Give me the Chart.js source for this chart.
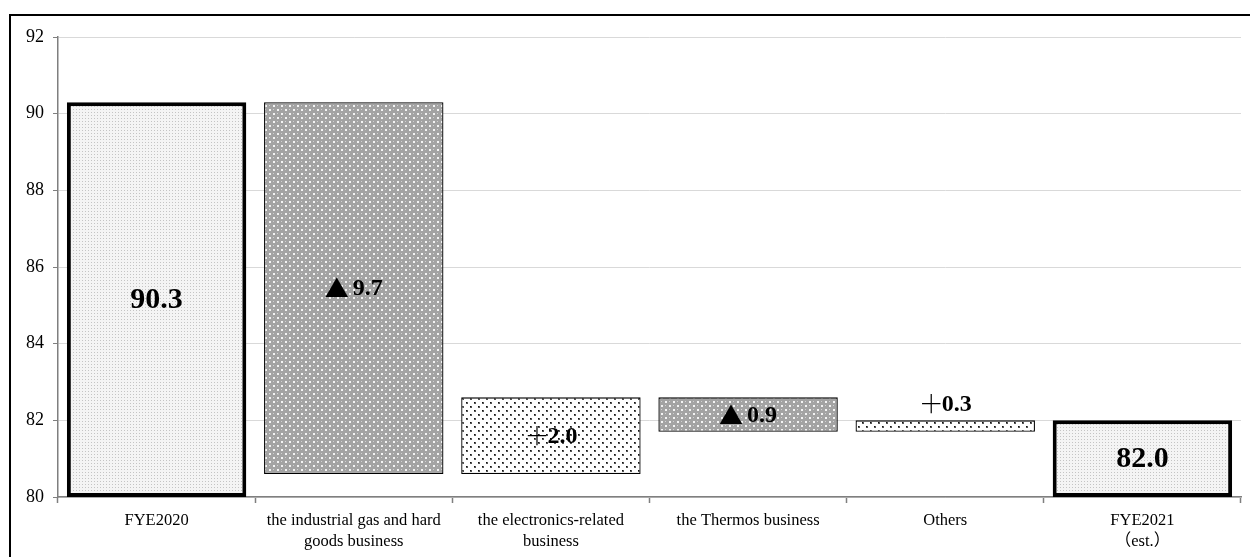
<!DOCTYPE html>
<html>
<head>
<meta charset="utf-8">
<script src="https://cdn.jsdelivr.net/npm/chart.js@4/dist/chart.umd.min.js"></script>
<style>
  html, body { margin: 0; padding: 0; background: #fff; }
  #wrap { width: 1250px; height: 557px; position: relative; }
</style>
</head>
<body>
<div id="wrap"><canvas id="c" width="1250" height="557"></canvas></div>
<script>
// ---- data ----
const categories = [
  'FYE2020',
  ['the industrial gas and hard', 'goods business'],
  ['the electronics-related', 'business'],
  'the Thermos business',
  'Others',
  ['FYE2021', '（est.）']
];
const barStart = [80, 80.6, 80.6, 81.7, 81.7, 80];
const barEnd   = [90.3, 90.3, 82.6, 82.6, 82.0, 82.0];
const valueLabels = ['90.3', '▲9.7', '＋2.0', '▲0.9', '＋0.3', '82.0'];
const barKinds = ['total', 'decrease', 'increase', 'decrease', 'increase', 'total'];
const yTicks = [80, 82, 84, 86, 88, 90, 92];

// ---- patterns ----
function makePattern(kind) {
  const t = document.createElement('canvas');
  const g = t.getContext('2d');
  if (kind === 'total') {
    t.width = 3; t.height = 3;
    g.fillStyle = '#f4f4f4'; g.fillRect(0, 0, 3, 3);
    g.fillStyle = '#c4c4c4'; g.fillRect(1, 1, 1, 1);
  } else if (kind === 'decrease') {
    t.width = 8; t.height = 8;
    g.fillStyle = '#a3a3a3'; g.fillRect(0, 0, 8, 8);
    g.fillStyle = '#f4f4f4';
    g.fillRect(1, 1, 2, 2); g.fillRect(5, 5, 2, 2);
    g.fillStyle = '#d0d0d0';
    g.fillRect(5, 1, 1, 1); g.fillRect(1, 5, 1, 1);
  } else {
    t.width = 8; t.height = 8;
    g.fillStyle = '#ffffff'; g.fillRect(0, 0, 8, 8);
    g.fillStyle = '#555555';
    g.fillRect(2, 2, 2, 2); g.fillRect(6, 6, 2, 2);
    g.fillStyle = '#111111';
    g.fillRect(2, 2, 1, 1); g.fillRect(6, 6, 1, 1);
  }
  const ctx = document.getElementById('c').getContext('2d');
  return ctx.createPattern(t, 'repeat');
}
const fills = barKinds.map(makePattern);
const borderWidths = barKinds.map(k => k === 'total' ? 4 : 1.3);

const SERIF = '"Liberation Serif", "Times New Roman", "Noto Sans CJK JP", serif';

// ---- plugins ----
const frame = {
  id: 'frame',
  beforeDraw(chart) {
    const c = chart.ctx;
    c.save();
    c.fillStyle = '#fff';
    c.fillRect(0, 0, chart.width, chart.height);
    c.strokeStyle = '#000';
    c.lineWidth = 2;
    c.beginPath();
    c.moveTo(10, chart.height + 5);
    c.lineTo(10, 15);
    c.lineTo(chart.width + 5, 15);
    c.stroke();
    c.restore();
  }
};

const labelsPlugin = {
  id: 'valueLabels',
  afterDatasetsDraw(chart) {
    const c = chart.ctx;
    const meta = chart.getDatasetMeta(0);
    const ys = chart.scales.y;
    c.save();
    c.fillStyle = '#000';
    c.textBaseline = 'middle';
    meta.data.forEach((el, i) => {
      const txt = valueLabels[i];
      const isTotal = barKinds[i] === 'total';
      let cy;
      const top = ys.getPixelForValue(barEnd[i]);
      const bot = ys.getPixelForValue(barStart[i]);
      if (bot - top < 20) cy = top - 17; else cy = (top + bot) / 2;
      const cx = el.x;
      if (isTotal) {
        c.font = 'bold 30px ' + SERIF;
        c.textAlign = 'center';
        c.fillText(txt, cx, cy + 1);
      } else {
        const sym = txt[0], num = txt.slice(1);
        const symFont = (sym === '＋' ? '300 25px ' : '24px ') + '"Noto Sans CJK JP", ' + SERIF;
        const numFont = 'bold 24px ' + SERIF;
        c.font = symFont; const ws = c.measureText(sym).width;
        c.font = numFont; const wn = c.measureText(num).width;
        const gap = sym === '＋' ? -2 : 4;
        let x0 = cx - (ws + gap + wn) / 2;
        c.textAlign = 'left';
        c.font = symFont; c.fillText(sym, x0, cy);
        c.font = numFont; c.fillText(num, x0 + ws + gap, cy + 1);
      }
    });
    c.restore();
  }
};

new Chart(document.getElementById('c'), {
  type: 'bar',
  data: {
    labels: categories,
    datasets: [{
      data: barStart.map((s, i) => [s, barEnd[i]]),
      backgroundColor: fills,
      borderColor: '#000',
      borderWidth: borderWidths,
      borderSkipped: false,
      barPercentage: 0.91,
      categoryPercentage: 1.0
    }]
  },
  options: {
    responsive: false,
    animation: false,
    devicePixelRatio: 1,
    layout: { padding: { left: 0, top: 37, right: 9, bottom: 0 } },
    plugins: { legend: { display: false }, tooltip: { enabled: false } },
    scales: {
      x: {
        grid: { display: true, offset: true, drawOnChartArea: false, drawTicks: true, tickLength: 6, color: '#7f7f7f', tickWidth: 1.5 },
        border: { display: true, color: '#7f7f7f', width: 1.5 },
        ticks: { color: '#000', font: { family: SERIF, size: 16.5, lineHeight: 1.22 }, padding: 8, maxRotation: 0, autoSkip: false },
        afterFit(s) { s.height = 60; }
      },
      y: {
        min: 80, max: 92,
        afterBuildTicks(s) { s.ticks = yTicks.map(v => ({ value: v })); },
        grid: { color: '#d9d9d9', lineWidth: 1, tickLength: 5, tickColor: '#7f7f7f' },
        border: { display: true, color: '#7f7f7f', width: 1.5 },
        ticks: { color: '#000', font: { family: SERIF, size: 18 }, padding: 9 },
        afterFit(s) { s.width = 58; }
      }
    }
  },
  plugins: [frame, labelsPlugin]
});
</script>
</body>
</html>
